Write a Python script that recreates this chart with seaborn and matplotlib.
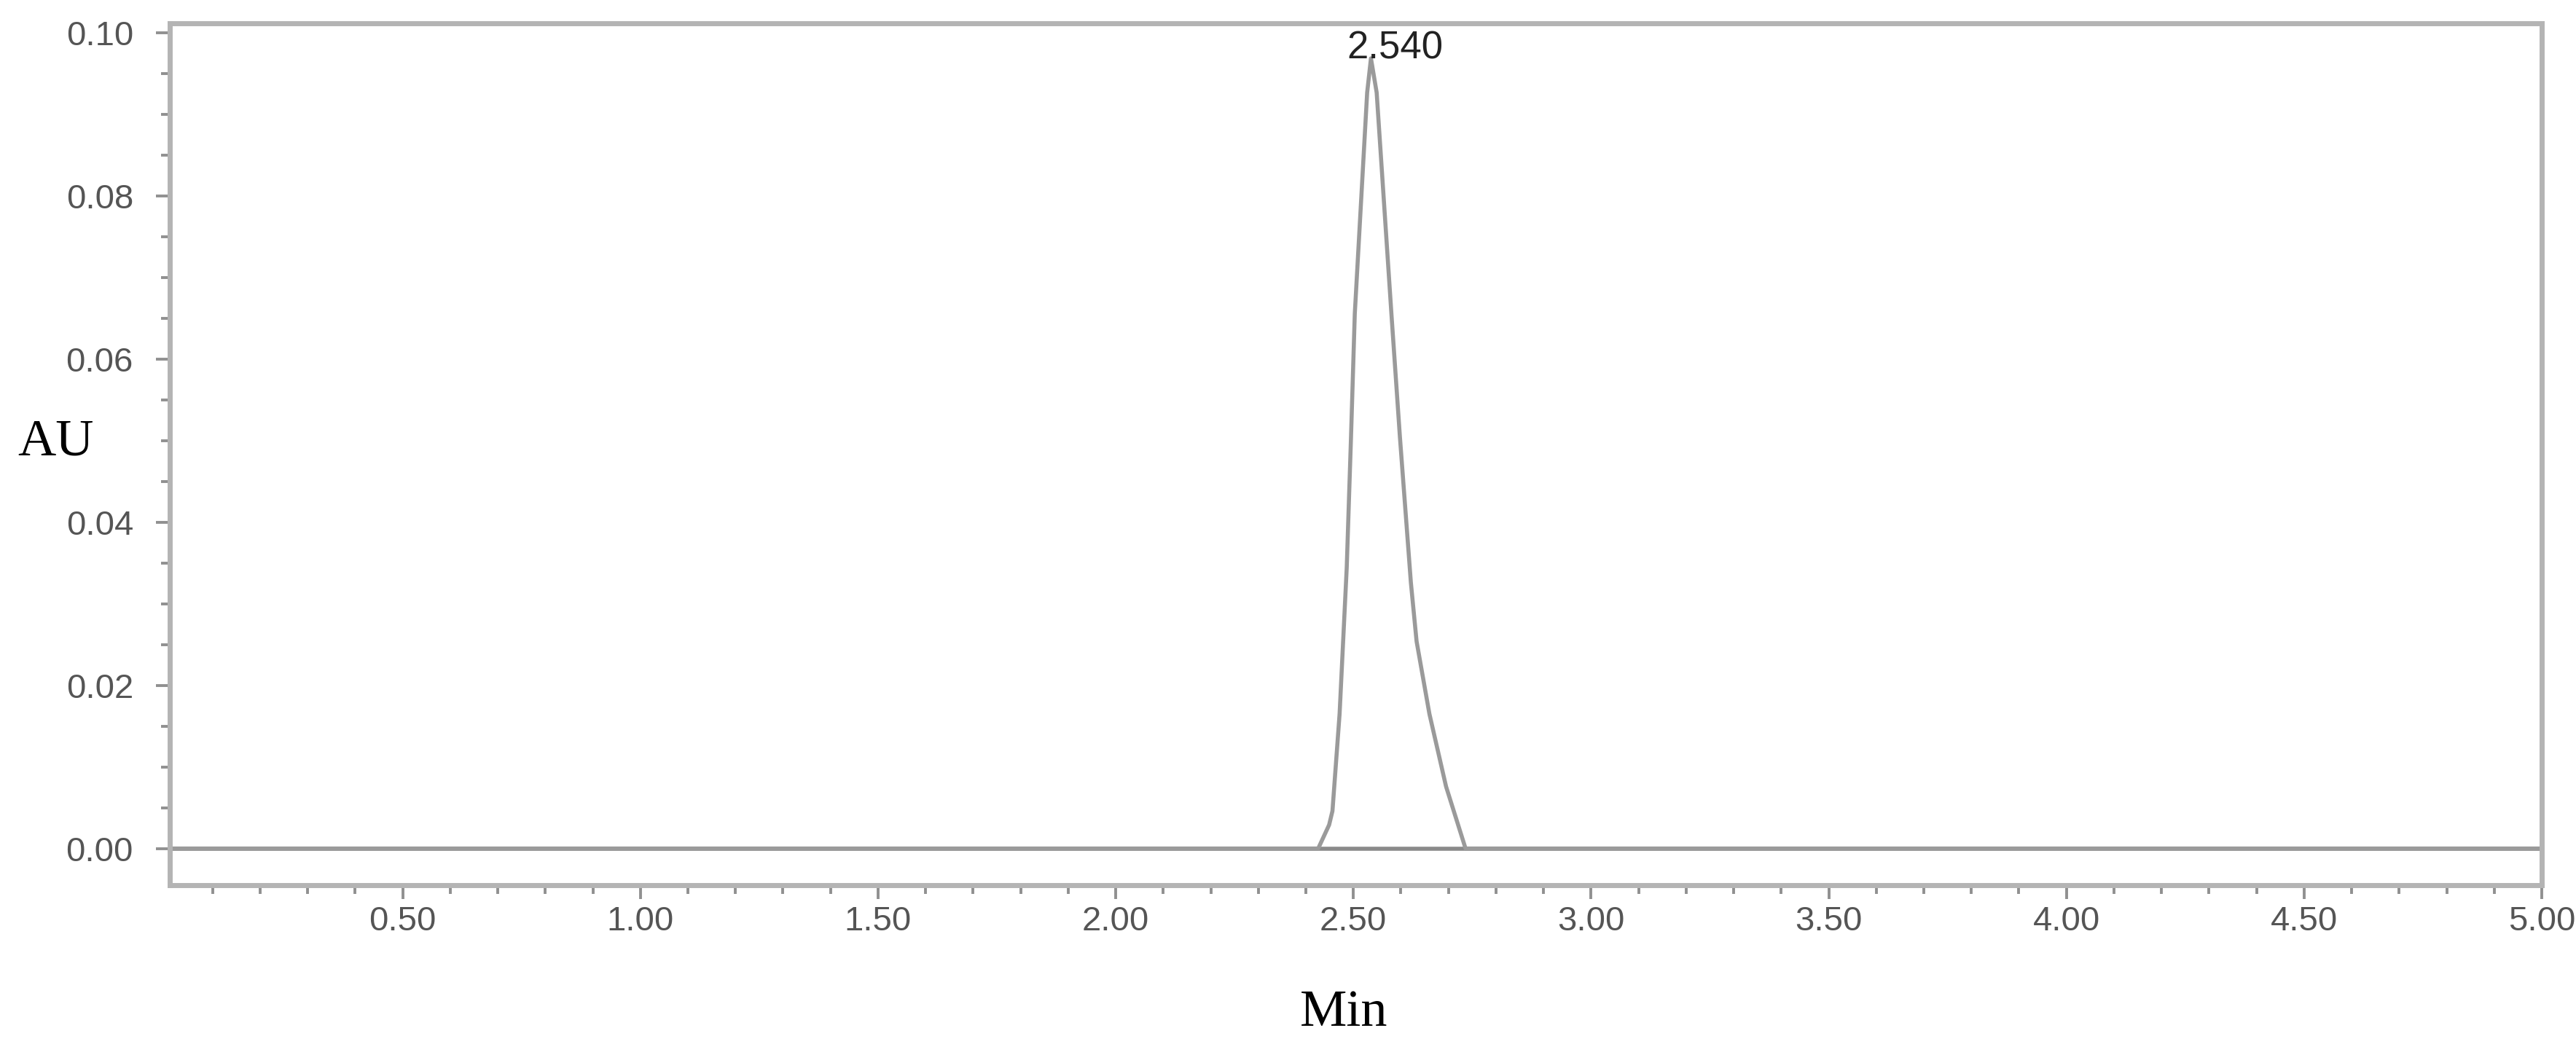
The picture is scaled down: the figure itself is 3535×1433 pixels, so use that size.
import numpy as np
import pandas as pd
import seaborn as sns
import matplotlib.pyplot as plt
from matplotlib.ticker import MultipleLocator, FormatStrFormatter

sns.set_style("white")
plt.rcParams['font.family'] = ['Liberation Sans', 'DejaVu Sans']

# chromatogram trace (time in min, absorbance in AU)
time_min = [0.01, 2.426, 2.449, 2.456, 2.471, 2.486, 2.495, 2.503, 2.529, 2.537,
            2.549, 2.580, 2.598, 2.621, 2.633, 2.660, 2.695, 2.736, 5.00]
absorbance = [0.0, 0.0, 0.0029, 0.0046, 0.0165, 0.0344, 0.0504, 0.0656, 0.0927, 0.0969,
              0.0927, 0.0656, 0.0504, 0.0326, 0.0254, 0.0165, 0.0076, 0.0, 0.0]
peak_time = 2.537
peak_height = 0.0969
peak_label = "2.540"

df = pd.DataFrame({'Min': time_min, 'AU': absorbance})

fig = plt.figure(figsize=(17.675, 7.165), dpi=200)
ax = fig.add_axes([0.0659, 0.1521, 0.9208, 0.8256])

ax.axhline(0, color='#8a8a8a', lw=2.0, zorder=1)
sns.lineplot(data=df, x='Min', y='AU', ax=ax, color='#9a9a9a', lw=2.0,
             estimator=None, sort=False, zorder=2)

ax.annotate(peak_label, xy=(peak_time, peak_height), xytext=(12, 0),
            textcoords='offset points', ha='center', va='baseline',
            fontsize=19, color='#222222')

ax.set_xlim(0.01, 5.0)
ax.set_ylim(-0.0045, 0.1012)

ax.xaxis.set_major_locator(MultipleLocator(0.5))
ax.xaxis.set_minor_locator(MultipleLocator(0.1))
ax.yaxis.set_major_locator(MultipleLocator(0.02))
ax.yaxis.set_minor_locator(MultipleLocator(0.005))
ax.xaxis.set_major_formatter(FormatStrFormatter('%.2f'))
ax.yaxis.set_major_formatter(FormatStrFormatter('%.2f'))

ax.tick_params(which='major', direction='out', length=7, width=1.4,
               color='#909090', labelsize=17, labelcolor='#555555')
ax.tick_params(which='minor', direction='out', length=4.3, width=1.4, color='#909090')
ax.tick_params(axis='x', which='both', bottom=True, pad=3)
ax.tick_params(axis='y', which='both', left=True, pad=11)

for side in ['top', 'right', 'bottom', 'left']:
    ax.spines[side].set_color('#b4b4b4')
    ax.spines[side].set_linewidth(2.5)

ax.set_xlabel('Min', fontfamily='Liberation Serif', fontsize=26, color='black',
              va='center')
ax.set_ylabel('AU', fontfamily='Liberation Serif', fontsize=26, color='black',
              rotation=0, ha='center', va='center')
ax.xaxis.set_label_coords(0.495, -0.148)
ax.yaxis.set_label_coords(-0.048, 0.514)

fig.savefig('out.png', dpi=200)
